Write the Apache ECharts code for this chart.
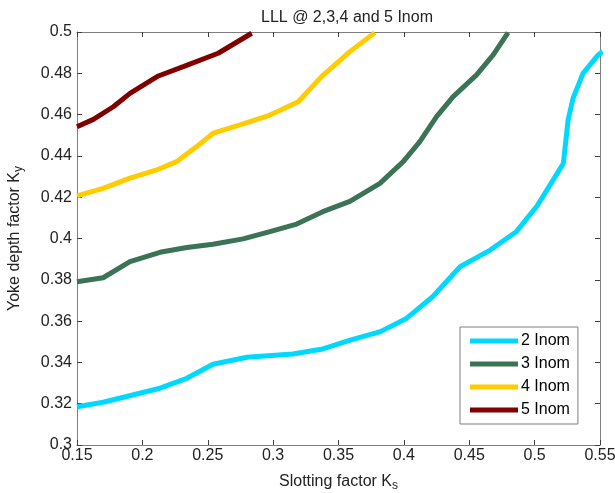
<!DOCTYPE html>
<html><head><meta charset="utf-8">
<script src="https://cdn.jsdelivr.net/npm/echarts@6/dist/echarts.min.js"></script>
<style>html,body{margin:0;padding:0;background:#fff}#c{width:615px;height:493px}</style>
</head><body><div id="c"></div>
<script>
const title = 'LLL @ 2,3,4 and 5 Inom';
const seriesNames = ['2 Inom', '3 Inom', '4 Inom', '5 Inom'];
const ks2 = [0.15, 0.170, 0.2135, 0.234, 0.254, 0.280, 0.315, 0.338, 0.359, 0.382, 0.402, 0.422, 0.443, 0.466, 0.486, 0.5015, 0.522, 0.5256, 0.5294, 0.537, 0.5486, 0.552];
const ky2 = [0.3185, 0.3207, 0.3275, 0.3323, 0.3391, 0.3425, 0.3441, 0.3465, 0.3508, 0.3549, 0.3613, 0.3718, 0.3863, 0.3944, 0.4033, 0.4154, 0.4364, 0.4574, 0.4679, 0.4800, 0.4889, 0.4905];
const ks3 = [0.15, 0.170, 0.1905, 0.2135, 0.234, 0.254, 0.277, 0.2976, 0.318, 0.338, 0.3587, 0.3817, 0.3995, 0.4122, 0.425, 0.4377, 0.4556, 0.4683, 0.4797];
const ky3 = [0.3791, 0.3810, 0.3888, 0.3933, 0.3956, 0.3972, 0.3998, 0.4033, 0.4070, 0.4130, 0.4180, 0.4267, 0.4372, 0.4469, 0.4590, 0.4687, 0.4792, 0.4889, 0.4997];
const ks4 = [0.15, 0.170, 0.1905, 0.2109, 0.2262, 0.2415, 0.2542, 0.2746, 0.2976, 0.3192, 0.3370, 0.3587, 0.3778];
const ky4 = [0.4206, 0.4243, 0.4292, 0.4332, 0.4372, 0.4445, 0.4510, 0.4550, 0.4598, 0.4662, 0.4784, 0.4905, 0.4997];
const ks5 = [0.15, 0.1625, 0.1778, 0.1905, 0.2122, 0.2313, 0.2580, 0.2836];
const ky5 = [0.4541, 0.4577, 0.4638, 0.4703, 0.4787, 0.4832, 0.4897, 0.4994];
const colors = ['#00D8FF', '#3A7355', '#FFCC00', '#800000'];

const zip = (a, b) => a.map((v, i) => [v, b[i]]);
const allData = [zip(ks2, ky2), zip(ks3, ky3), zip(ks4, ky4), zip(ks5, ky5)];

const font = 'Liberation Sans, Arial, sans-serif';
const axisCommon = {
  axisLine: { show: true, lineStyle: { color: '#7f7f7f', width: 1 } },
  axisTick: { show: true, inside: true, length: 5, lineStyle: { color: '#404040' } },
  splitLine: { show: false },
};
const nameRich = {
  n: { fontFamily: font, fontSize: 16, color: '#222' },
  s: { fontFamily: font, fontSize: 12, color: '#222', verticalAlign: 'bottom', padding: [9, 0, 0, 0] }
};
const chart = echarts.init(document.getElementById('c'));
chart.setOption({
  animation: false,
  backgroundColor: '#fff',
  title: { text: title, left: 342, top: 5, textAlign: 'center',
    textStyle: { fontFamily: font, fontSize: 16, fontWeight: 'normal', color: '#222' } },
  grid: { left: 77, right: 15, top: 32, bottom: 48, containLabel: false, outerBoundsMode: 'none' },
  legend: {
    data: seriesNames, orient: 'vertical', left: 460, top: 327,
    backgroundColor: '#fff', borderColor: '#7f7f7f', borderWidth: 1,
    padding: [6, 8, 6, 10], itemGap: 7, itemWidth: 48, itemHeight: 5, icon: 'rect',
    textStyle: { fontFamily: font, fontSize: 16, color: '#000', padding: [0, 0, 0, -2] }
  },
  xAxis: [{
    type: 'value', min: 0.15, max: 0.55, interval: 0.05, position: 'bottom',
    name: '{n|Slotting factor K}{s|s}', nameLocation: 'middle', nameGap: 26,
    nameTextStyle: { rich: nameRich },
    axisLabel: { fontFamily: font, fontSize: 16, color: '#222', margin: 3 },
    ...axisCommon
  }, {
    type: 'value', min: 0.15, max: 0.55, interval: 0.05, position: 'top',
    axisLabel: { show: false }, ...axisCommon
  }],
  yAxis: [{
    type: 'value', min: 0.3, max: 0.5, interval: 0.02, position: 'left',
    name: '{n|Yoke depth factor K}{s|y}', nameLocation: 'middle', nameGap: 52,
    nameTextStyle: { rich: nameRich },
    axisLabel: { fontFamily: font, fontSize: 16, color: '#222', margin: 5 },
    ...axisCommon
  }, {
    type: 'value', min: 0.3, max: 0.5, interval: 0.02, position: 'right',
    axisLabel: { show: false }, ...axisCommon
  }],
  series: allData.map((d, i) => ({
    name: seriesNames[i], type: 'line', data: d, showSymbol: false, symbol: 'none',
    xAxisIndex: 0, yAxisIndex: 0, clip: true,
    lineStyle: { color: colors[i], width: 5 }, itemStyle: { color: colors[i] }
  }))
});
</script></body></html>
